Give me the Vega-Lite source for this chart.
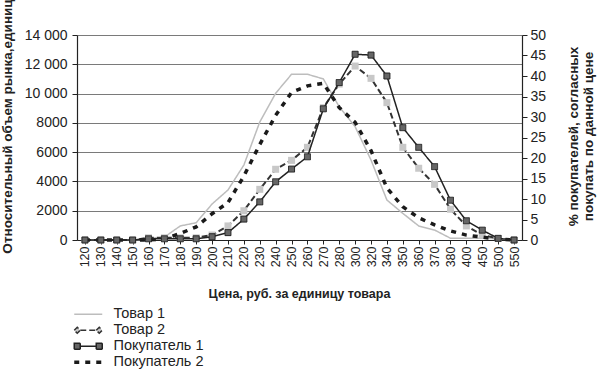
{
  "$schema": "https://vega.github.io/schema/vega-lite/v6.json",
  "width": 445,
  "height": 205,
  "autosize": "none",
  "padding": {"left": 77, "top": 35, "right": 78, "bottom": 133},
  "background": "white",
  "config": {
    "view": {"stroke": null},
    "font": "Liberation Sans",
    "axis": {"labelFont": "Liberation Sans", "titleFont": "Liberation Sans", "labelColor": "#222222", "titleColor": "#222222", "domainColor": "#222222", "tickColor": "#222222"},
    "legend": {"labelFont": "Liberation Sans"}
  },
  "data": {
    "values": [
      {"price": 120, "series": "Товар 1", "value": 0},
      {"price": 130, "series": "Товар 1", "value": 0},
      {"price": 140, "series": "Товар 1", "value": 0},
      {"price": 150, "series": "Товар 1", "value": 0},
      {"price": 160, "series": "Товар 1", "value": 50},
      {"price": 170, "series": "Товар 1", "value": 200},
      {"price": 180, "series": "Товар 1", "value": 960},
      {"price": 190, "series": "Товар 1", "value": 1180},
      {"price": 200, "series": "Товар 1", "value": 2460},
      {"price": 210, "series": "Товар 1", "value": 3415},
      {"price": 220, "series": "Товар 1", "value": 5120},
      {"price": 230, "series": "Товар 1", "value": 8060},
      {"price": 240, "series": "Товар 1", "value": 10020},
      {"price": 250, "series": "Товар 1", "value": 11320},
      {"price": 260, "series": "Товар 1", "value": 11320},
      {"price": 270, "series": "Товар 1", "value": 11000},
      {"price": 280, "series": "Товар 1", "value": 9100},
      {"price": 300, "series": "Товар 1", "value": 7740},
      {"price": 320, "series": "Товар 1", "value": 5460},
      {"price": 340, "series": "Товар 1", "value": 2730},
      {"price": 350, "series": "Товар 1", "value": 1820},
      {"price": 360, "series": "Товар 1", "value": 960},
      {"price": 370, "series": "Товар 1", "value": 680},
      {"price": 380, "series": "Товар 1", "value": 120},
      {"price": 400, "series": "Товар 1", "value": 120},
      {"price": 450, "series": "Товар 1", "value": 120},
      {"price": 500, "series": "Товар 1", "value": 80},
      {"price": 550, "series": "Товар 1", "value": 0},
      {"price": 120, "series": "Товар 2", "value": 0},
      {"price": 130, "series": "Товар 2", "value": 0},
      {"price": 140, "series": "Товар 2", "value": 0},
      {"price": 150, "series": "Товар 2", "value": 0},
      {"price": 160, "series": "Товар 2", "value": 150},
      {"price": 170, "series": "Товар 2", "value": 150},
      {"price": 180, "series": "Товар 2", "value": 150},
      {"price": 190, "series": "Товар 2", "value": 150},
      {"price": 200, "series": "Товар 2", "value": 340},
      {"price": 210, "series": "Товар 2", "value": 960},
      {"price": 220, "series": "Товар 2", "value": 2000},
      {"price": 230, "series": "Товар 2", "value": 3460},
      {"price": 240, "series": "Товар 2", "value": 4830},
      {"price": 250, "series": "Товар 2", "value": 5440},
      {"price": 260, "series": "Товар 2", "value": 6330},
      {"price": 270, "series": "Товар 2", "value": 9040},
      {"price": 280, "series": "Товар 2", "value": 10650},
      {"price": 300, "series": "Товар 2", "value": 11880},
      {"price": 320, "series": "Товар 2", "value": 11040},
      {"price": 340, "series": "Товар 2", "value": 9380},
      {"price": 350, "series": "Товар 2", "value": 6330},
      {"price": 360, "series": "Товар 2", "value": 4900},
      {"price": 370, "series": "Товар 2", "value": 3800},
      {"price": 380, "series": "Товар 2", "value": 2100},
      {"price": 400, "series": "Товар 2", "value": 960},
      {"price": 450, "series": "Товар 2", "value": 340},
      {"price": 500, "series": "Товар 2", "value": 100},
      {"price": 550, "series": "Товар 2", "value": 0},
      {"price": 120, "series": "Покупатель 1", "value": 0},
      {"price": 130, "series": "Покупатель 1", "value": 0},
      {"price": 140, "series": "Покупатель 1", "value": 0},
      {"price": 150, "series": "Покупатель 1", "value": 0},
      {"price": 160, "series": "Покупатель 1", "value": 0.3},
      {"price": 170, "series": "Покупатель 1", "value": 0.3},
      {"price": 180, "series": "Покупатель 1", "value": 0.3},
      {"price": 190, "series": "Покупатель 1", "value": 0.3},
      {"price": 200, "series": "Покупатель 1", "value": 0.8},
      {"price": 210, "series": "Покупатель 1", "value": 1.8},
      {"price": 220, "series": "Покупатель 1", "value": 5.1},
      {"price": 230, "series": "Покупатель 1", "value": 9.3},
      {"price": 240, "series": "Покупатель 1", "value": 14.2},
      {"price": 250, "series": "Покупатель 1", "value": 17.3},
      {"price": 260, "series": "Покупатель 1", "value": 20.3},
      {"price": 270, "series": "Покупатель 1", "value": 32},
      {"price": 280, "series": "Покупатель 1", "value": 38.4},
      {"price": 300, "series": "Покупатель 1", "value": 45.3},
      {"price": 320, "series": "Покупатель 1", "value": 45.1},
      {"price": 340, "series": "Покупатель 1", "value": 40},
      {"price": 350, "series": "Покупатель 1", "value": 27.4},
      {"price": 360, "series": "Покупатель 1", "value": 22.6},
      {"price": 370, "series": "Покупатель 1", "value": 17.9},
      {"price": 380, "series": "Покупатель 1", "value": 9.7},
      {"price": 400, "series": "Покупатель 1", "value": 4.7},
      {"price": 450, "series": "Покупатель 1", "value": 2.4},
      {"price": 500, "series": "Покупатель 1", "value": 0.4},
      {"price": 550, "series": "Покупатель 1", "value": 0},
      {"price": 120, "series": "Покупатель 2", "value": 0},
      {"price": 130, "series": "Покупатель 2", "value": 0},
      {"price": 140, "series": "Покупатель 2", "value": 0},
      {"price": 150, "series": "Покупатель 2", "value": 0},
      {"price": 160, "series": "Покупатель 2", "value": 0},
      {"price": 170, "series": "Покупатель 2", "value": 0.3},
      {"price": 180, "series": "Покупатель 2", "value": 1.6},
      {"price": 190, "series": "Покупатель 2", "value": 3.2},
      {"price": 200, "series": "Покупатель 2", "value": 6.4},
      {"price": 210, "series": "Покупатель 2", "value": 9.1},
      {"price": 220, "series": "Покупатель 2", "value": 15.6},
      {"price": 230, "series": "Покупатель 2", "value": 23.3},
      {"price": 240, "series": "Покупатель 2", "value": 30.4},
      {"price": 250, "series": "Покупатель 2", "value": 36},
      {"price": 260, "series": "Покупатель 2", "value": 37.6},
      {"price": 270, "series": "Покупатель 2", "value": 38.2},
      {"price": 280, "series": "Покупатель 2", "value": 32.3},
      {"price": 300, "series": "Покупатель 2", "value": 28.7},
      {"price": 320, "series": "Покупатель 2", "value": 21.8},
      {"price": 340, "series": "Покупатель 2", "value": 12.7},
      {"price": 350, "series": "Покупатель 2", "value": 8.1},
      {"price": 360, "series": "Покупатель 2", "value": 5.4},
      {"price": 370, "series": "Покупатель 2", "value": 3.7},
      {"price": 380, "series": "Покупатель 2", "value": 2.2},
      {"price": 400, "series": "Покупатель 2", "value": 1.2},
      {"price": 450, "series": "Покупатель 2", "value": 0.7},
      {"price": 500, "series": "Покупатель 2", "value": 0.2},
      {"price": 550, "series": "Покупатель 2", "value": 0}
    ]
  },
  "encoding": {
    "x": {
      "field": "price",
      "type": "ordinal",
      "scale": {"type": "point", "padding": 0.5},
      "axis": {
        "title": "Цена, руб. за единицу товара",
        "titleFontSize": 12.5,
        "titleFontWeight": "bold",
        "titleX": 222,
        "titleY": 53,
        "titleBaseline": "middle",
        "labelAngle": -90,
        "labelFontSize": 12.5,
        "labelPadding": 2,
        "tickSize": 4,
        "domainWidth": 1.2,
        "grid": false
      }
    },
    "stroke": {
      "field": "series",
      "type": "nominal",
      "scale": {
        "domain": ["Товар 1", "Товар 2", "Покупатель 1", "Покупатель 2"],
        "range": ["#bdbdbd", "#333333", "#222222", "#1a1a1a"]
      },
      "legend": {
        "title": null,
        "orient": "none",
        "legendX": 4,
        "legendY": 272,
        "direction": "vertical",
        "padding": 0,
        "labelFontSize": 14.5,
        "labelColor": "#222222",
        "symbolSize": 100,
        "labelOffset": 18,
        "rowPadding": 1,
        "encode": {
          "symbols": {
            "update": {
              "shape": {"signal": "datum.value === 'Товар 2' ? 'M-2.8,0L-2.2,-0.6L-1.6,0L-2.2,0.6Z M-1.6,0L1.6,0 M1.6,0L2.2,-0.6L2.8,0L2.2,0.6Z' : datum.value === 'Покупатель 1' ? 'M-2.8,-0.6L-1.6,-0.6L-1.6,0.6L-2.8,0.6Z M-1.6,0L1.6,0 M1.6,-0.6L2.8,-0.6L2.8,0.6L1.6,0.6Z' : 'M-2.8,0L2.8,0'"},
              "fill": {"signal": "datum.value === 'Товар 2' ? '#c8c8c8' : datum.value === 'Покупатель 1' ? '#666666' : 'transparent'"},
              "strokeWidth": {"signal": "datum.value === 'Покупатель 2' ? 3.5 : 1.5"},
              "strokeDash": {"signal": "datum.value === 'Покупатель 2' ? [6,5] : [1,0]"},
              "opacity": {"value": 1}
            }
          }
        }
      }
    },
    "strokeDash": {
      "field": "series",
      "type": "nominal",
      "scale": {
        "domain": ["Товар 1", "Товар 2", "Покупатель 1", "Покупатель 2"],
        "range": [[1, 0], [6, 3], [1, 0], [5, 6]]
      },
      "legend": null
    }
  },
  "layer": [
    {
      "encoding": {
        "y": {
          "field": "value",
          "type": "quantitative",
          "scale": {"domain": [0, 14000]},
          "axis": {
            "title": "Относительный объем рынка,единиц",
            "titleFontSize": 13.5,
            "titleFontWeight": "bold",
            "titleAngle": -90,
            "titleAlign": "center",
            "titleBaseline": "middle",
            "titleX": -70,
            "titleY": 91,
            "values": [0, 2000, 4000, 6000, 8000, 10000, 12000, 14000],
            "labelExpr": "datum.value >= 10000 ? replace(format(datum.value, ','), ',', ' ') : format(datum.value, 'd')",
            "labelFontSize": 14,
            "labelPadding": 5,
            "tickSize": 5,
            "grid": true,
            "gridColor": "#7a7a7a",
            "gridWidth": 1,
            "domainWidth": 1.2
          }
        }
      },
      "layer": [
        {"transform": [{"filter": "datum.series === 'Товар 1'"}], "mark": {"type": "line", "strokeWidth": 1.5}},
        {"transform": [{"filter": "datum.series === 'Товар 2'"}], "mark": {"type": "line", "strokeWidth": 2}},
        {"transform": [{"filter": "datum.series === 'Товар 2'"}], "mark": {"type": "point", "shape": "square", "filled": true, "fill": "#c8c8c8", "size": 49, "strokeWidth": 0, "opacity": 1}}
      ]
    },
    {
      "encoding": {
        "y": {
          "field": "value",
          "type": "quantitative",
          "scale": {"domain": [0, 50]},
          "axis": {
            "orient": "right",
            "title": ["% покупателей, согласных", "покупать по данной цене"],
            "titleFontSize": 13.5,
            "titleFontWeight": "bold",
            "titleAngle": -90,
            "titleAlign": "center",
            "titleBaseline": "middle",
            "titleLineHeight": 15,
            "titleX": 51,
            "titleY": 101,
            "values": [0, 5, 10, 15, 20, 25, 30, 35, 40, 45, 50],
            "labelFontSize": 14,
            "labelPadding": 3,
            "tickSize": 5,
            "grid": false,
            "domainWidth": 1.2
          }
        }
      },
      "layer": [
        {"transform": [{"filter": "datum.series === 'Покупатель 2'"}], "mark": {"type": "line", "strokeWidth": 3.5}},
        {"transform": [{"filter": "datum.series === 'Покупатель 1'"}], "mark": {"type": "line", "strokeWidth": 1.5}},
        {"transform": [{"filter": "datum.series === 'Покупатель 1'"}], "mark": {"type": "point", "shape": "square", "filled": true, "fill": "#666666", "size": 36, "strokeWidth": 1, "opacity": 1}}
      ]
    }
  ],
  "resolve": {"scale": {"y": "independent"}}
}
